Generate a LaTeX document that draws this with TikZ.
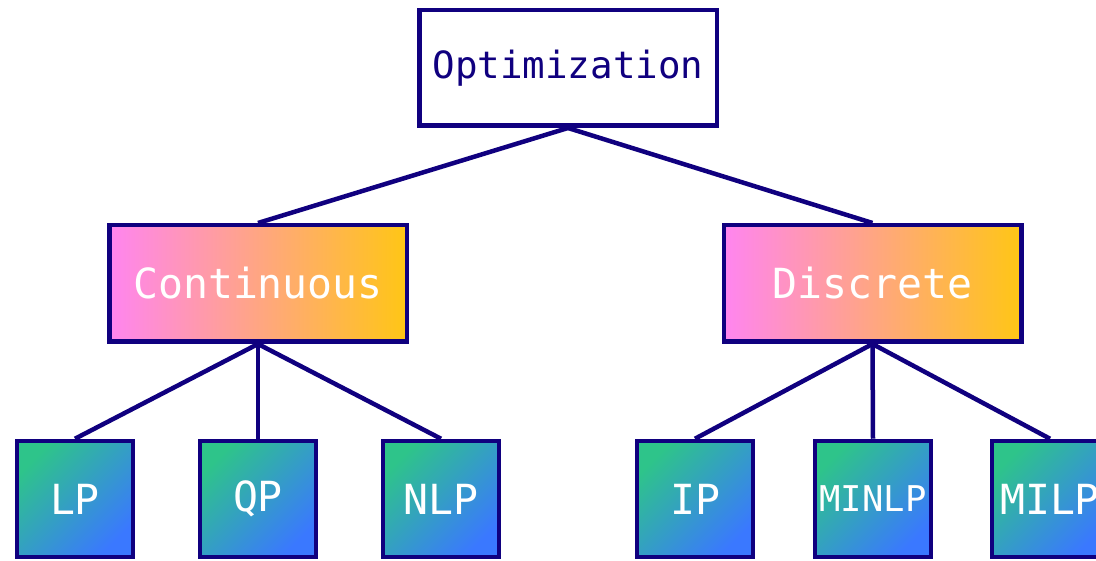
\documentclass[tikz,border=0pt]{standalone}
\usepackage{fontspec}
\newfontfamily\boxfont{DejaVu Sans Mono}
\definecolor{navy}{HTML}{10007F}
\definecolor{pinkL}{HTML}{FF85F0}
\definecolor{yellowR}{HTML}{FFC615}
\definecolor{tealTL}{HTML}{2EC48A}
\definecolor{blueBR}{HTML}{3A78FF}
\tikzset{
  box/.style={draw=navy, line width=4.5pt, inner sep=0pt, font=\boxfont},
  rootbox/.style={box, minimum width=297.5pt, minimum height=115.5pt, fill=white,
    text=navy, font=\boxfont\fontsize{37.5}{40}\selectfont},
  midbox/.style={box, minimum width=297.5pt, minimum height=116.5pt,
    left color=pinkL, right color=yellowR, text=white,
    font=\boxfont\fontsize{41.5}{44}\selectfont},
  leafbox/.style={box, minimum width=116pt, minimum height=116pt,
    top color=tealTL, bottom color=blueBR, shading angle=45, text=white,
    font=\boxfont\fontsize{41.5}{44}\selectfont},
  link/.style={draw=navy, line width=4.5pt}
}
\begin{document}
\begin{tikzpicture}[x=1pt,y=1pt]
  \clip (0,0) rectangle (1096,561);
  \fill[white] (0,0) rectangle (1096,561);

  % tree levels
  \node[rootbox] (opt) at (568,493) {Optimization};
  \node[midbox] (cont) at (258,277.5) {Continuous};
  \node[midbox] (disc) at (872.5,277.5) {Discrete};

  \node[leafbox] (lp)    at (75,62)   {LP};
  \node[leafbox] (qp)    at (258,62)  {QP};
  \node[leafbox] (nlp)   at (441,62)  {NLP};
  \node[leafbox] (ip)    at (695,62)  {IP};
  \node[leafbox, font=\boxfont\fontsize{35.5}{38}\selectfont] (minlp) at (873,62) {MINLP};
  \node[leafbox] (milp)  at (1050,62) {MILP};

  % connectors
  \draw[link] (opt.south) -- (cont.north);
  \draw[link] (opt.south) -- (disc.north);
  \draw[link] (cont.south) -- (lp.north);
  \draw[link] (cont.south) -- (qp.north);
  \draw[link] (cont.south) -- (nlp.north);
  \draw[link] (disc.south) -- (ip.north);
  \draw[link] (disc.south) -- (minlp.north);
  \draw[link] (disc.south) -- (milp.north);
\end{tikzpicture}
\end{document}
